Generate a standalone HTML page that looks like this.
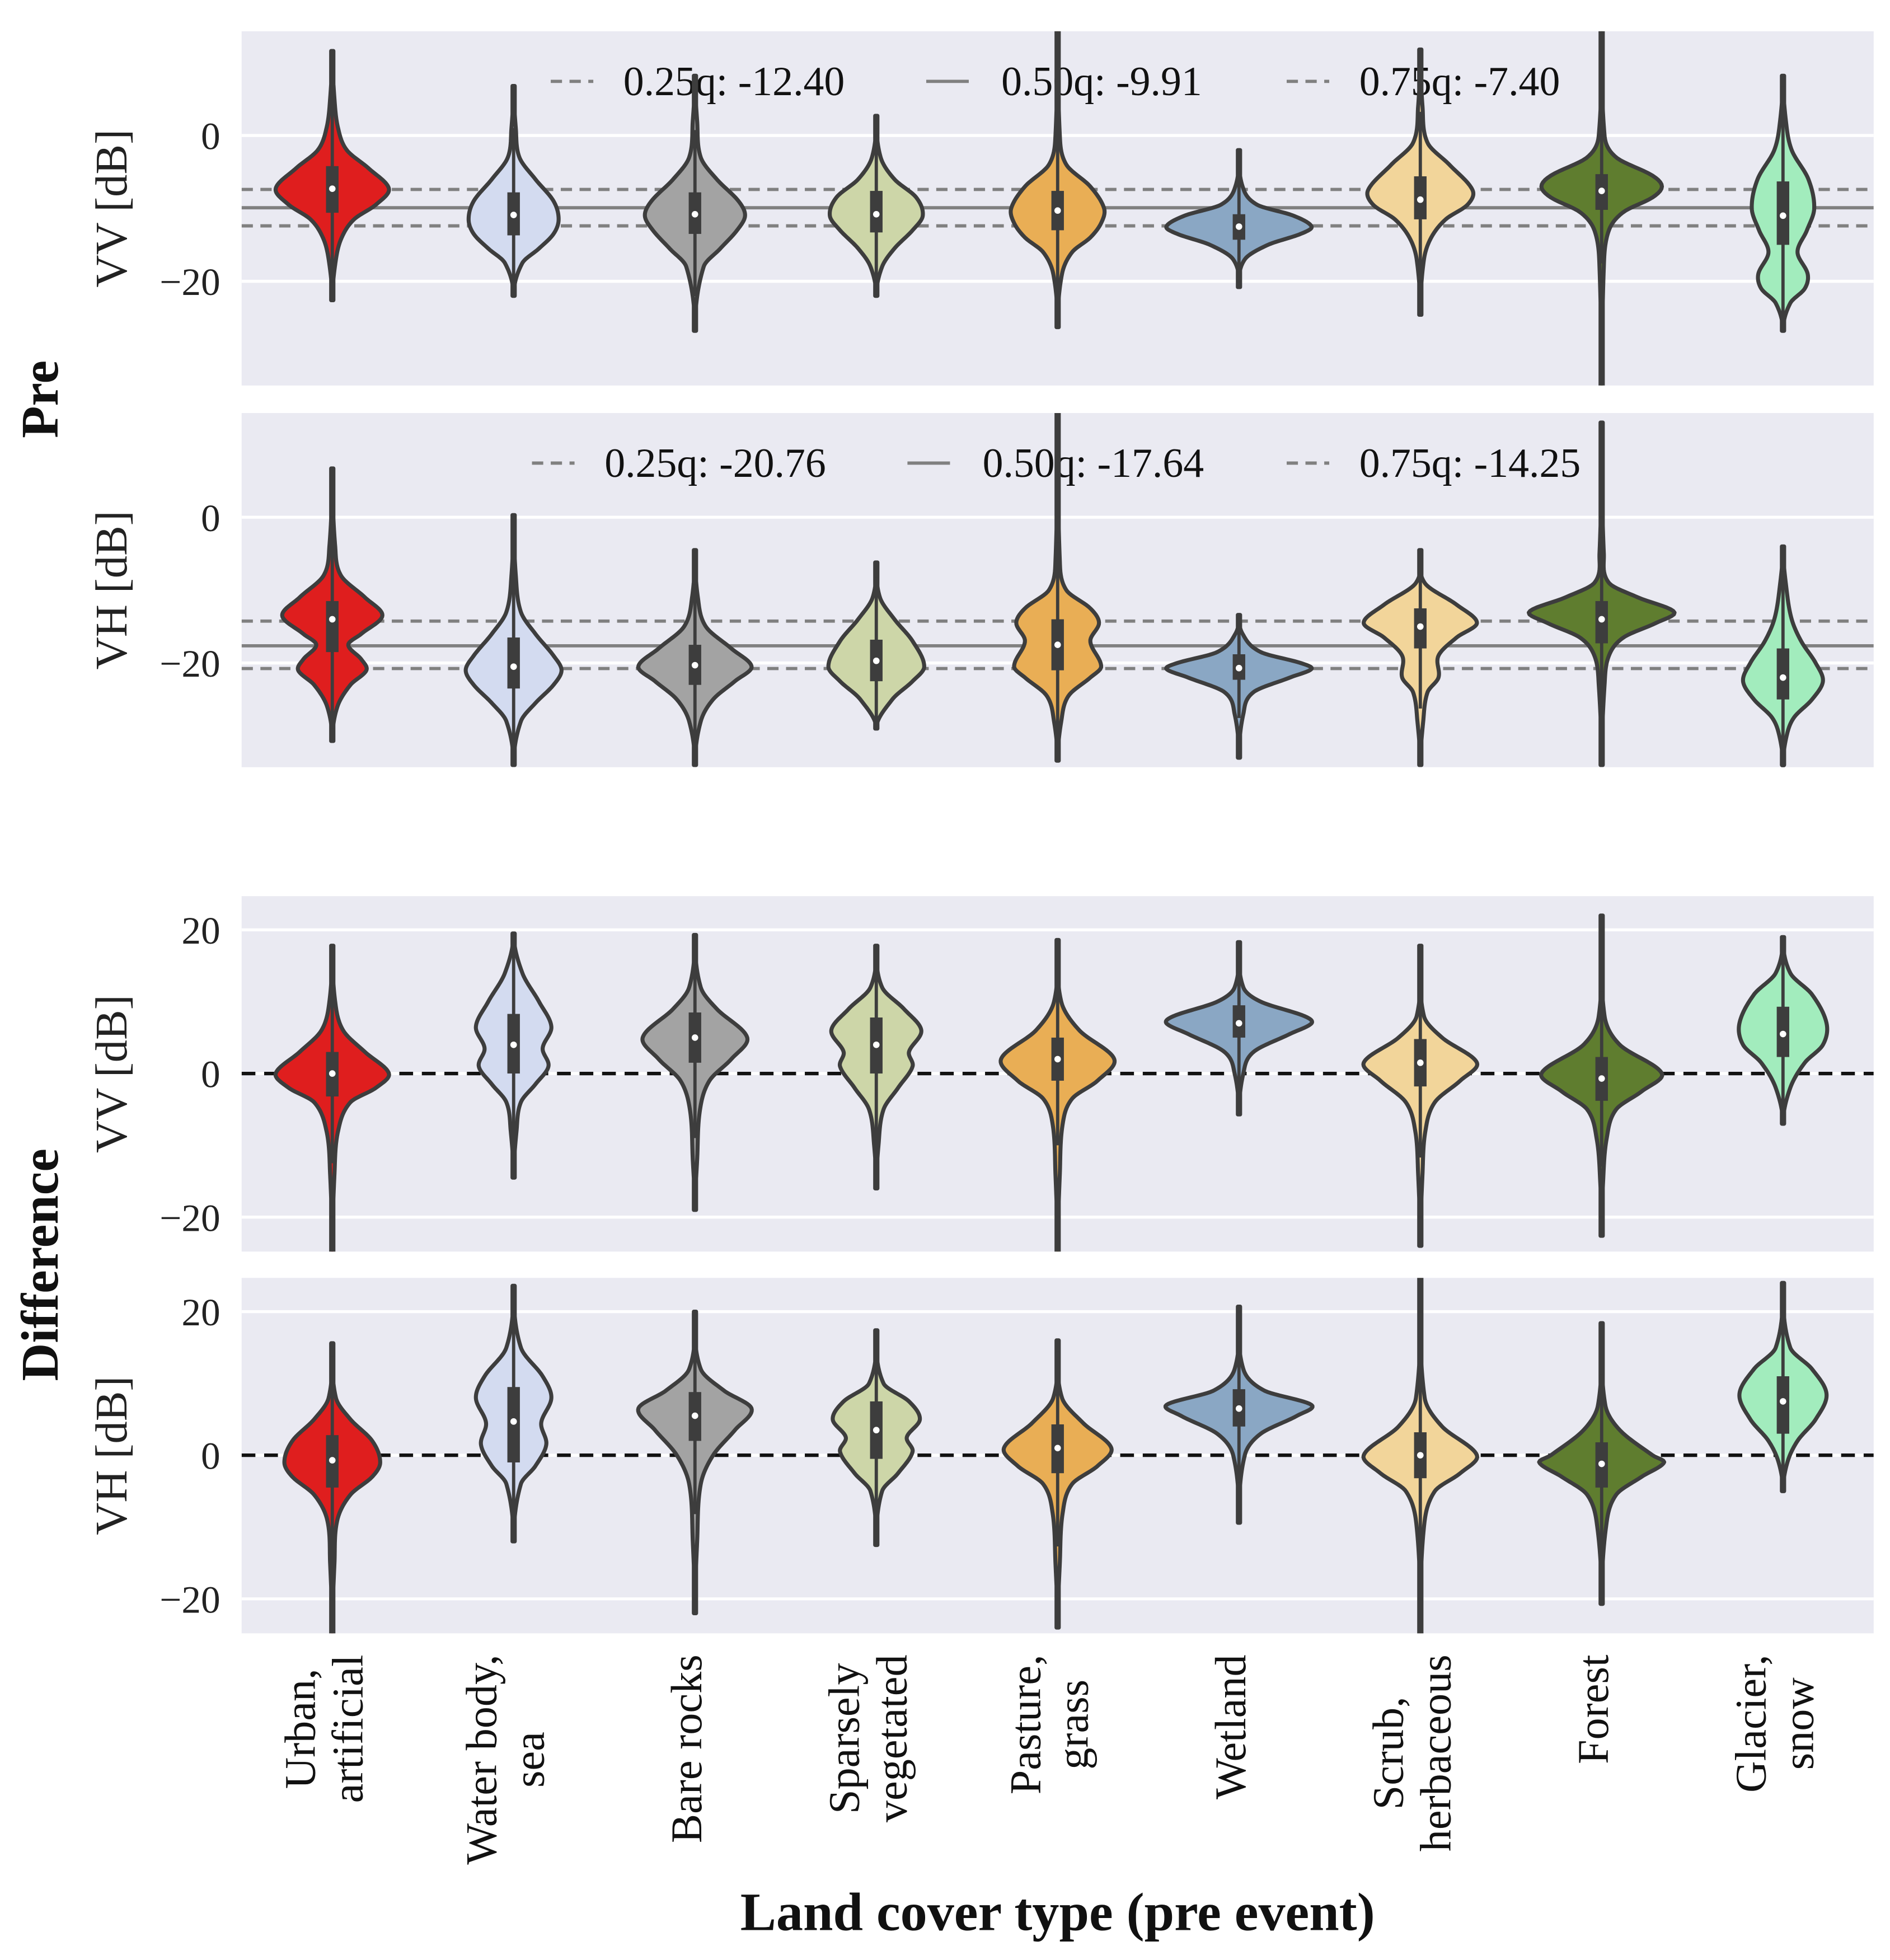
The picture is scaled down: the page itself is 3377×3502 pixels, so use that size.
<!DOCTYPE html>
<html><head><meta charset="utf-8"><style>
html,body{margin:0;padding:0;background:#fff;}
svg{display:block;font-family:"Liberation Serif",serif;}
</style></head><body>
<svg id="chart" width="3377" height="3502" viewBox="0 0 1510 1566" xmlns="http://www.w3.org/2000/svg">
<g id="root"></g>
</svg>
<script>
const categories = ["Urban,\nartificial","Water body,\nsea","Bare rocks","Sparsely\nvegetated","Pasture,\ngrass","Wetland","Scrub,\nherbaceous","Forest","Glacier,\nsnow"];
const colors = ["#df1e1e","#d3dbf0","#a3a3a3","#cdd6a8","#e9ae55","#8aa7c4","#f2d59a","#5f7d2f","#a2ecbd"];

// Panel 1: Pre VV
const p1Low = [-22.6,-22,-26.8,-22,-26.3,-20.8,-24.6,-40,-26.8];
const p1High = [11.6,6.8,8.2,2.7,20,-2,11.8,20,8.2];
const p1Med = [-7.3,-10.9,-10.8,-10.8,-10.3,-12.5,-8.8,-7.6,-11];
const p1Q1 = [-10.6,-13.7,-13.5,-13.3,-13,-14.3,-11.5,-10.2,-15];
const p1Q3 = [-4.2,-7.8,-7.8,-7.6,-7.6,-10.8,-5.6,-5.3,-6.3];
const p1Dens = [
 [[11.6,0],[5,0.03],[1,0.08],[-2,0.2],[-4.5,0.5],[-7.3,0.78],[-9.5,0.6],[-11.5,0.3],[-14,0.13],[-17,0.05],[-22.6,0]],
 [[6.8,0],[1,0.03],[-3,0.08],[-6,0.3],[-9,0.55],[-11.5,0.62],[-13.5,0.55],[-15.5,0.35],[-17.5,0.12],[-22,0]],
 [[8.2,0],[2,0.03],[-3,0.08],[-6,0.3],[-9,0.6],[-11,0.69],[-13,0.58],[-15.5,0.35],[-18,0.12],[-26.8,0]],
 [[2.7,0],[-3,0.06],[-6,0.25],[-8.5,0.55],[-11,0.64],[-13,0.5],[-15.5,0.25],[-18,0.08],[-22,0]],
 [[20,0],[0,0.03],[-4,0.12],[-7,0.45],[-10,0.64],[-12,0.6],[-14,0.45],[-16,0.2],[-19,0.06],[-26.3,0]],
 [[-2,0],[-7,0.05],[-9.5,0.25],[-11,0.75],[-12.5,1.0],[-13.5,0.85],[-15,0.4],[-17,0.08],[-20.8,0]],
 [[11.8,0],[4,0.03],[-1,0.1],[-4,0.4],[-7.5,0.72],[-9.5,0.65],[-11.5,0.35],[-14,0.15],[-17,0.05],[-24.6,0]],
 [[20,0],[0,0.04],[-3,0.2],[-5.5,0.7],[-7,0.83],[-8.5,0.7],[-10.5,0.3],[-13,0.1],[-18,0.03],[-40,0]],
 [[8.2,0],[2,0.04],[-2,0.12],[-6,0.35],[-10,0.43],[-13,0.33],[-16,0.2],[-19,0.34],[-21,0.3],[-23,0.1],[-26.8,0]]
];
// Panel 2: Pre VH
const p2Low = [-30.7,-40,-40,-29,-33.4,-33,-40,-40,-40];
const p2High = [6.7,0.3,-4.5,-6.2,20,-13.4,-4.5,13,-4];
const p2Med = [-14,-20.5,-20.3,-19.7,-17.5,-20.7,-15,-14,-22];
const p2Q1 = [-18.5,-23.5,-23,-22.5,-21,-22.3,-18,-17.3,-25];
const p2Q3 = [-11.5,-16.5,-17.5,-16.8,-14,-18.8,-12.5,-11.5,-18];
const p2Dens = [
 [[6.7,0],[-4,0.04],[-8,0.12],[-11,0.45],[-13.5,0.69],[-16,0.4],[-17.5,0.22],[-19.5,0.4],[-21,0.47],[-23,0.25],[-26,0.07],[-30.7,0]],
 [[0.3,0],[-8,0.03],[-13,0.1],[-16,0.3],[-19,0.55],[-21,0.66],[-23,0.55],[-25.5,0.3],[-28,0.1],[-34,0]],
 [[-4.5,0],[-11,0.04],[-15,0.15],[-18,0.5],[-20.5,0.78],[-22.5,0.55],[-25,0.25],[-28,0.08],[-34,0]],
 [[-6.2,0],[-11,0.05],[-14,0.25],[-17,0.5],[-20.5,0.66],[-22.5,0.5],[-25,0.22],[-29,0]],
 [[20,0],[-6,0.03],[-10,0.12],[-12.5,0.45],[-14.5,0.57],[-17,0.45],[-20.5,0.6],[-22,0.45],[-24.5,0.15],[-28,0.05],[-33.4,0]],
 [[-13.4,0],[-16,0.05],[-18.5,0.3],[-20,0.85],[-20.8,1.0],[-22,0.7],[-24,0.2],[-27,0.06],[-33,0]],
 [[-4.5,0],[-9,0.06],[-12,0.5],[-14.5,0.78],[-16.5,0.5],[-19,0.25],[-22,0.25],[-24,0.1],[-28,0.04],[-34,0]],
 [[13,0],[-5,0.03],[-9,0.1],[-11,0.5],[-13,1.0],[-14.5,0.75],[-16.5,0.3],[-19,0.1],[-23,0.04],[-34,0]],
 [[-4,0],[-10,0.05],[-14,0.12],[-17,0.25],[-20,0.45],[-22.5,0.55],[-25,0.4],[-27.5,0.15],[-30,0.05],[-34,0]]
];
// Panel 3: Difference VV
const p3Low = [-25,-14.5,-19,-16,-25,-5.7,-24,-22.6,-7];
const p3High = [17.8,19.5,19.3,17.8,18.6,18.3,17.8,22,19];
const p3Med = [0,4,5,4,2,7,1.5,-0.7,5.5];
const p3Q1 = [-3.2,0,1.5,0,-1,5,-1.8,-3.8,2.3];
const p3Q3 = [3,8.3,8.5,7.8,5,9.5,4.8,2.3,9.3];
const p3Dens = [
 [[17.8,0],[10,0.04],[6,0.15],[3,0.45],[0,0.78],[-2,0.6],[-4,0.25],[-8,0.08],[-14,0.03],[-25,0]],
 [[19.5,0],[14,0.12],[10,0.35],[6.5,0.52],[3.5,0.4],[1,0.48],[-1.5,0.3],[-4,0.1],[-8,0.04],[-14.5,0]],
 [[19.3,0],[12,0.08],[9,0.3],[5,0.72],[2,0.5],[-1,0.2],[-5,0.07],[-12,0.03],[-19,0]],
 [[17.8,0],[12,0.08],[9,0.38],[6,0.62],[3,0.45],[1,0.5],[-2,0.3],[-5,0.1],[-10,0.03],[-16,0]],
 [[18.6,0],[10,0.05],[6,0.3],[2,0.78],[-1,0.55],[-3.5,0.2],[-7,0.07],[-14,0.03],[-25,0]],
 [[18.3,0],[12,0.06],[10,0.3],[8,0.9],[7,1.0],[5.5,0.7],[3,0.2],[0,0.06],[-5.7,0]],
 [[17.8,0],[8,0.05],[5,0.3],[1.5,0.78],[-1,0.55],[-4,0.2],[-8,0.07],[-14,0.03],[-24,0]],
 [[22,0],[8,0.04],[4,0.25],[0,0.83],[-2.5,0.55],[-5,0.2],[-9,0.07],[-15,0.02],[-22.6,0]],
 [[19,0],[14,0.1],[11,0.4],[7,0.6],[4,0.55],[1.5,0.3],[-2,0.1],[-7,0]]
];
// Panel 4: Difference VH
const p4Low = [-25,-12,-22,-12.5,-24,-9.4,-25,-20.7,-5];
const p4High = [15.6,23.6,20,17.4,16,20.7,26,18.4,24];
const p4Med = [-0.7,4.7,5.5,3.5,1,6.5,0,-1.2,7.5];
const p4Q1 = [-4.5,-1,2,-0.5,-2.5,4,-3.2,-4.5,3];
const p4Q3 = [2.8,9.5,8.8,7.5,4.3,9.2,3.2,1.8,11];
const p4Dens = [
 [[15.6,0],[8,0.05],[5,0.25],[2,0.55],[-1,0.66],[-3,0.55],[-5.5,0.25],[-9,0.07],[-15,0.03],[-25,0]],
 [[23.6,0],[15,0.1],[11,0.4],[8,0.52],[4.5,0.38],[1.5,0.45],[-1.5,0.3],[-4,0.1],[-12,0]],
 [[20,0],[12,0.08],[9,0.4],[6.5,0.78],[3.5,0.55],[0,0.25],[-4,0.08],[-12,0.03],[-22,0]],
 [[17.4,0],[10,0.1],[7.5,0.45],[5,0.6],[2.5,0.42],[0.5,0.5],[-2.5,0.3],[-5,0.08],[-12.5,0]],
 [[16,0],[8,0.06],[4.5,0.35],[1,0.74],[-1.5,0.55],[-4,0.2],[-8,0.07],[-15,0.03],[-24,0]],
 [[20.7,0],[12,0.06],[9,0.35],[7,1.0],[5.5,0.8],[3,0.3],[0,0.08],[-9.4,0]],
 [[26,0],[8,0.06],[4,0.3],[0,0.78],[-2.5,0.55],[-5,0.2],[-10,0.05],[-25,0]],
 [[18.4,0],[7,0.05],[3.5,0.25],[0,0.7],[-1,0.86],[-3,0.55],[-5.5,0.2],[-10,0.06],[-20.7,0]],
 [[24,0],[15,0.1],[12,0.4],[8.5,0.6],[5,0.45],[2,0.2],[-1,0.06],[-5,0]]
];
const qLabels1 = ["0.25q: -12.40","0.50q: -9.91","0.75q: -7.40"];
const qValues1 = [-12.40,-9.91,-7.40];
const qLabels2 = ["0.25q: -20.76","0.50q: -17.64","0.75q: -14.25"];
const qValues2 = [-20.76,-17.64,-14.25];

const NS="http://www.w3.org/2000/svg";
const root=document.getElementById('root');
function mk(tag,attrs,parent){const e=document.createElementNS(NS,tag);for(const k in attrs)e.setAttribute(k,attrs[k]);(parent||root).appendChild(e);return e;}

const X0=193,X1=1497;
const bandW=(X1-X0)/categories.length;
function xScale(i){return X0+bandW*(i+0.5);}
const maxHalf=58;

const panels=[
 {name:"pre-vv",top:25,bot:308,dmin:-34.3,dmax:14.3,ticks:[0,-20],label:"VV [dB]",low:p1Low,high:p1High,med:p1Med,q1:p1Q1,q3:p1Q3,dens:p1Dens,qv:qValues1,ql:qLabels1,legX:[440,740,1028],textX:[498,800,1086]},
 {name:"pre-vh",top:330,bot:613,dmin:-34.3,dmax:14.3,ticks:[0,-20],label:"VH [dB]",low:p2Low,high:p2High,med:p2Med,q1:p2Q1,q3:p2Q3,dens:p2Dens,qv:qValues2,ql:qLabels2,legX:[425,725,1028],textX:[483,785,1086]},
 {name:"diff-vv",top:716,bot:1000,dmin:-24.8,dmax:24.7,ticks:[20,0,-20],label:"VV [dB]",low:p3Low,high:p3High,med:p3Med,q1:p3Q1,q3:p3Q3,dens:p3Dens,zero:true},
 {name:"diff-vh",top:1021,bot:1305,dmin:-24.8,dmax:24.7,ticks:[20,0,-20],label:"VH [dB]",low:p4Low,high:p4High,med:p4Med,q1:p4Q1,q3:p4Q3,dens:p4Dens,zero:true}
];

function densAt(prof,v){
  const n=prof.length;
  if(v>=prof[0][0]||v<=prof[n-1][0]) return 0;
  const tan=k=>{
    if(k===0||k===n-1) return 0;
    return (prof[k+1][1]-prof[k-1][1])/(prof[k+1][0]-prof[k-1][0]);
  };
  for(let k=0;k<n-1;k++){
    const a=prof[k],b=prof[k+1];
    if(v<=a[0]&&v>=b[0]){
      const h=b[0]-a[0];const t=(v-a[0])/h;
      const m0=tan(k)*h,m1=tan(k+1)*h;
      const t2=t*t,t3=t2*t;
      const y=(2*t3-3*t2+1)*a[1]+(t3-2*t2+t)*m0+(-2*t3+3*t2)*b[1]+(t3-t2)*m1;
      return Math.max(y,0);
    }
  }
  return 0;
}

panels.forEach((p,pi)=>{
  const ys=v=>p.top+(p.dmax-v)/(p.dmax-p.dmin)*(p.bot-p.top);
  const g=mk('g',{});
  
  
  const clip=mk('clipPath',{id:'clip'+pi},g);
  mk('rect',{x:X0,y:p.top,width:X1-X0,height:p.bot-p.top},clip);
  const bg=mk('rect',{x:X0,y:p.top,width:X1-X0,height:p.bot-p.top,fill:'#eaeaf2'},g);
  
  
  p.ticks.forEach(t=>{
    const gl=mk('line',{x1:X0,x2:X1,y1:ys(t),y2:ys(t),stroke:'#fff','stroke-width':2.4},g);
    
    
    const tl=mk('text',{x:176,y:ys(t)+11,'text-anchor':'end','font-size':31,fill:'#222'},g);
    tl.textContent=(t<0?'\u2212':'')+Math.abs(t);
    
    
  });
  const yl=mk('text',{x:0,y:0,transform:`translate(101,${(p.top+p.bot)/2}) rotate(-90)`,'text-anchor':'middle','font-size':36,fill:'#222'},g);
  yl.textContent=p.label;
  
  
  const cg=mk('g',{'clip-path':`url(#clip${pi})`},g);
  if(p.qv){
    p.qv.forEach((q,k)=>{
      const ln=mk('line',{x1:X0,x2:X1,y1:ys(q),y2:ys(q),stroke:'#808080','stroke-width':2.6,'stroke-dasharray':k===1?'none':'9,6'},cg);
      
      
      const ly=p.top+40;
      const ll=mk('line',{x1:p.legX[k],x2:p.legX[k]+34,y1:ly,y2:ly,stroke:'#808080','stroke-width':2.6,'stroke-dasharray':k===1?'none':'9,6'},cg);
      
      
      const lt=mk('text',{x:p.textX[k],y:ly+11,'font-size':33,fill:'#111'},cg);
      lt.textContent=p.ql[k];
      
      
    });
  }
  if(p.zero){
    const z=mk('line',{x1:X0,x2:X1,y1:ys(0),y2:ys(0),stroke:'#111','stroke-width':2.8,'stroke-dasharray':'11,7'},cg);
    
    
  }
  categories.forEach((c,i)=>{
    const cx=xScale(i);
    const prof=p.dens[i];
    const top=prof[0][0],bot=prof[prof.length-1][0];
    const N=200;const right=[],left=[];
    for(let s=0;s<=N;s++){const v=top+(bot-top)*s/N;const w=Math.max(densAt(prof,v)*maxHalf,0.9);right.push([cx+w,ys(v)]);left.push([cx-w,ys(v)]);}
    const pts=right.concat(left.reverse());
    const d='M'+pts.map(q=>q[0].toFixed(2)+','+q[1].toFixed(2)).join('L')+'Z';
    const vg=mk('g',{},cg);
    
    
    mk('path',{d:d,fill:colors[i],stroke:'#3d3d3d','stroke-width':3.2,'stroke-linejoin':'round'},vg);
    const iqr=p.q3[i]-p.q1[i];
    const wLo=Math.max(p.low[i],p.q1[i]-1.5*iqr),wHi=Math.min(p.high[i],p.q3[i]+1.5*iqr);
    mk('line',{x1:cx,x2:cx,y1:ys(wHi),y2:ys(wLo),stroke:'#3d3d3d','stroke-width':2.6},vg);
    mk('rect',{x:cx-5,y:ys(p.q3[i]),width:10,height:ys(p.q1[i])-ys(p.q3[i]),fill:'#3d3d3d'},vg);
    mk('circle',{cx:cx,cy:ys(p.med[i]),r:2.6,fill:'#fff'},vg);
  });
});

[["Pre",(25+613)/2],["Difference",(716+1305)/2]].forEach(([t,y])=>{
  const e=mk('text',{x:0,y:0,transform:`translate(46,${y}) rotate(-90)`,'text-anchor':'middle','font-size':42,'font-weight':'bold',fill:'#111'});
  e.textContent=t;
  
  
});
categories.forEach((c,i)=>{
  const cx=xScale(i);
  const lines=c.split('\n');
  const g=mk('g',{});
  
  
  const els=lines.map(l=>{const t=mk('text',{'font-size':35,fill:'#111','text-anchor':'middle'},g);t.textContent=l;return t;});
  let maxL=0;els.forEach(t=>{maxL=Math.max(maxL,t.getComputedTextLength());});
  const centerY=1322+maxL/2;
  const n=lines.length,lh=38;
  els.forEach((t,k)=>{
    const off=(k-(n-1)/2)*lh;
    const bx=cx+off+5;
    t.setAttribute('transform',`translate(${bx},${centerY}) rotate(-90)`);
  });
});
const xl=mk('text',{x:845,y:1542,'text-anchor':'middle','font-size':43,'font-weight':'bold',fill:'#111'});
xl.textContent='Land cover type (pre event)';


</script>
</body></html>
